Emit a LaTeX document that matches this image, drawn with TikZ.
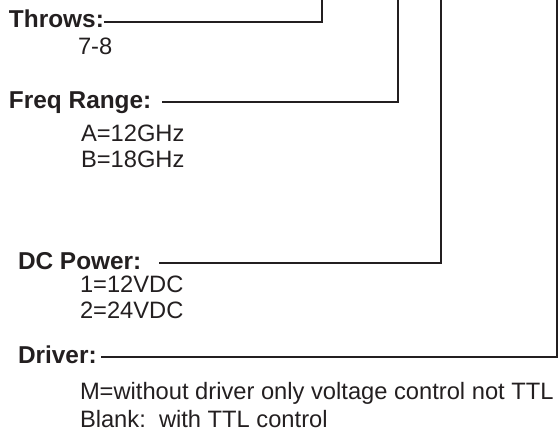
\documentclass[tikz,border=0pt]{standalone}
\usepackage{fontspec}
\setmainfont{Liberation Sans}
\definecolor{ink}{HTML}{231F20}
\tikzset{
  field/.style={anchor=base west,inner sep=0,font=\fontsize{24.4}{29}\selectfont\bfseries},
  option/.style={anchor=base west,inner sep=0,font=\fontsize{23.7}{28}\selectfont},
}
\begin{document}
\begin{tikzpicture}[x=1pt,y=-1pt,line width=2,color=ink]
		\useasboundingbox (0,0) rectangle (559,436);
		
		\node[field] (throws) at (8,28) {Throws:};
		\node[option] (throws78) at (77,55) {7-8};
		\node[field] (freq) at (8,108) {Freq Range:};
		\node[option] (freqA) at (80,141) {A=12GHz};
		\node[option] (freqB) at (80,167) {B=18GHz};
		\node[field] (power) at (17,269) {DC Power:};
		\node[option] (power12) at (79,292) {1=12VDC};
		\node[option] (power24) at (79,318) {2=24VDC};
		\node[field] (driver) at (17,363) {Driver:};
		\node[option] (driverM) at (79,399) {M=without driver only voltage control not TTL};
		\node[option] (driverBlank) at (79,427) {Blank:\ \ with TTL control};
		
		\coordinate (throws-top) at (322,0);
		\coordinate (freq-top) at (398,0);
		\coordinate (power-top) at (441,0);
		\coordinate (driver-top) at (557,0);
		
		\draw ([shift={(-1,-6)}]throws.base east) -| (throws-top);
		\draw ([shift={(10,-6)}]freq.base east) -| (freq-top);
		\draw ([shift={(17,-6)}]power.base east) -| (power-top);
		\draw ([shift={(3.5,-6)}]driver.base east) -| (driver-top);
	\end{tikzpicture}
\end{document}
